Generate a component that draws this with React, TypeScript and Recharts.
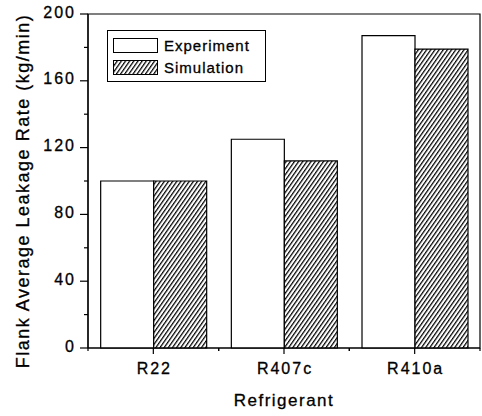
import React from 'react';
import { BarChart, Bar, XAxis, YAxis, Legend, ReferenceArea } from 'recharts';

const refrigerants = ['R22', 'R407c', 'R410a'];
const experiment = [100, 125, 187];
const simulation = [100, 112, 179];
const yTicks = [0, 20, 40, 60, 80, 100, 120, 140, 160, 180, 200];

const data = refrigerants.map((name, i) => ({
  name,
  experiment: experiment[i],
  simulation: simulation[i],
}));

const FONT = '"Liberation Sans", Arial, Helvetica, sans-serif';
const PLOT_W = 392;

// y ticks: long ones with labels every 40, short ones in between
const YTick = (props: any) => {
  const { x, y, payload } = props;
  const v = payload.value;
  const major = v % 40 === 0;
  const axisX = x + 14; // tickSize 8 + tickMargin 6
  return (
    <g>
      <line x1={axisX - (major ? 8 : 4)} x2={axisX} y1={y} y2={y} stroke="#000" strokeWidth={1.2} />
      {major && (
        <text
          x={x + 2}
          y={y}
          dy={3.5}
          textAnchor="end"
          fontSize={16}
          letterSpacing={2}
          fontFamily={FONT}
          fill="#000"
          stroke="#000"
          strokeWidth={0.3}
        >
          {v}
        </text>
      )}
    </g>
  );
};

const XTick = (props: any) => {
  const { x, y, payload } = props;
  const band = PLOT_W / refrigerants.length;
  const axisY = y - 8; // tickSize 6 + tickMargin 2
  return (
    <g>
      <line x1={x} x2={x} y1={axisY} y2={axisY + 6} stroke="#000" strokeWidth={1.2} />
      <line x1={x - band / 2} x2={x - band / 2} y1={axisY} y2={axisY + 3} stroke="#000" strokeWidth={1.2} />
      <line x1={x + band / 2} x2={x + band / 2} y1={axisY} y2={axisY + 3} stroke="#000" strokeWidth={1.2} />
      <text
        x={x + 1}
        y={axisY + 26}
        textAnchor="middle"
        fontSize={16}
        letterSpacing={2}
        fontFamily={FONT}
        fill="#000"
        stroke="#000"
        strokeWidth={0.3}
      >
        {payload.value}
      </text>
    </g>
  );
};

const renderLegend = () => {
  const rows = [
    { label: 'Experiment', fill: '#fff' },
    { label: 'Simulation', fill: 'url(#hatch)' },
  ];
  return (
    <div
      style={{
        position: 'relative',
        width: 157,
        height: 50,
        border: '1px solid #000',
        background: '#fff',
        fontFamily: FONT,
      }}
    >
      {rows.map((r, i) => (
        <div key={r.label} style={{ position: 'absolute', left: 5, top: 7 + i * 21.6, display: 'flex', alignItems: 'center' }}>
          <svg width={45} height={15} style={{ display: 'block' }}>
            <rect x={0.5} y={0.5} width={44} height={14} fill={r.fill} stroke="#000" strokeWidth={1} />
          </svg>
          <span
            style={{
              marginLeft: 6,
              fontSize: 15,
              letterSpacing: 1,
              color: '#000',
              lineHeight: '15px',
              WebkitTextStroke: '0.3px #000',
            }}
          >
            {r.label}
          </span>
        </div>
      ))}
    </div>
  );
};

export default function App() {
  return (
    <div style={{ position: 'absolute', left: 0, top: 0, width: 482, height: 416, background: '#fff' }}>
      <BarChart
        width={482}
        height={416}
        data={data}
        margin={{ top: 14, right: 2, left: 0, bottom: 0 }}
        barCategoryGap="9.7%"
        barGap={0}
      >
        <defs>
          <pattern id="hatch" patternUnits="userSpaceOnUse" width={3.4} height={10} patternTransform="rotate(35)">
            <rect x={0} y={0} width={3.4} height={10} fill="#fff" />
            <line x1={0.6} y1={0} x2={0.6} y2={10} stroke="#000" strokeWidth={1.3} />
          </pattern>
        </defs>
        <XAxis
          dataKey="name"
          height={68}
          interval={0}
          tickLine={false}
          tickSize={6}
          tickMargin={2}
          axisLine={{ stroke: '#000', strokeWidth: 1.2 }}
          tick={XTick}
          label={{
            content: ({ viewBox }: any) => (
              <text
                x={viewBox.x + viewBox.width / 2}
                y={viewBox.y + 58}
                textAnchor="middle"
                fontSize={17}
                letterSpacing={1.5}
                fontFamily={FONT}
                fill="#000"
                stroke="#000"
                strokeWidth={0.3}
              >
                Refrigerant
              </text>
            ),
          }}
        />
        <YAxis
          width={88}
          domain={[0, 200]}
          ticks={yTicks}
          interval={0}
          tickLine={false}
          tickSize={8}
          tickMargin={6}
          axisLine={{ stroke: '#000', strokeWidth: 1.2 }}
          tick={YTick}
          label={{
            content: () => (
              <text
                x={29}
                y={191}
                transform="rotate(-90, 29, 191)"
                textAnchor="middle"
                fontSize={18}
                letterSpacing={1.5}
                fontFamily={FONT}
                fill="#000"
                stroke="#000"
                strokeWidth={0.3}
              >
                Flank Average Leakage Rate (kg/min)
              </text>
            ),
          }}
        />
        <ReferenceArea y1={0} y2={200} fill="none" stroke="#000" strokeWidth={1.2} fillOpacity={0} />
        <Legend
          layout="vertical"
          align="center"
          verticalAlign="middle"
          content={renderLegend}
          wrapperStyle={{ left: 107, top: 30, width: 159, height: 52 }}
        />
        <Bar dataKey="experiment" fill="#fff" stroke="#000" strokeWidth={1.2} isAnimationActive={false} />
        <Bar dataKey="simulation" fill="url(#hatch)" stroke="#000" strokeWidth={1.2} isAnimationActive={false} />
      </BarChart>
    </div>
  );
}
